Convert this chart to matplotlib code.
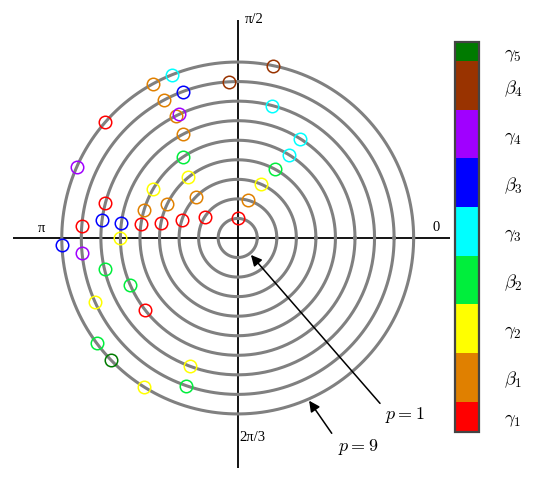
import numpy as np
import matplotlib
matplotlib.use("Agg")
import matplotlib.pyplot as plt
from matplotlib.colors import ListedColormap, BoundaryNorm
from matplotlib.cm import ScalarMappable

plt.rcParams['mathtext.fontset'] = 'cm'

# rings p = 1..9
rings = [1, 2, 3, 4, 5, 6, 7, 8, 9]

# colour classes, bottom to top of the colour bar
class_labels = [r'$\gamma_1$', r'$\beta_1$', r'$\gamma_2$', r'$\beta_2$', r'$\gamma_3$',
                r'$\beta_3$', r'$\gamma_4$', r'$\beta_4$', r'$\gamma_5$']
class_colors = ['#ff0000', '#e08000', '#ffff00', '#00ee3c', '#00ffff',
                '#0000ff', '#a000ff', '#993300', '#007a00']
# segment edges of the colour bar (first and last are short)
class_bounds = [0.37, 1, 2, 3, 4, 5, 6, 7, 8, 8.4]

# points: ring index and angle (degrees), grouped by class
gamma1_ring = [9, 7, 2, 1, 3, 4, 5, 8, 6]
gamma1_ang = [138.8, 165.2, 146.8, 90, 162, 169, 172, 175.5, 217.9]
beta1_ring = [9, 8, 7, 6, 3, 4, 5, 2]
beta1_ang = [118.6, 118, 116.6, 117.9, 135.5, 154.5, 163.5, 75]
gamma2_ring = [4, 5, 6, 8, 7, 9, 3]
gamma2_ang = [129, 150.2, 180, 204, 249.4, 237.9, 67]
beta2_ring = [5, 7, 6, 9, 8, 4]
beta2_ang = [123.8, 193.3, 203.7, 216.7, 250.8, 61.4]
gamma3_ring = [9, 7, 6, 5]
gamma3_ang = [111.9, 75.3, 57.7, 58]
beta3_ring = [8, 6, 7, 9]
beta3_ang = [110.6, 172.6, 172.5, 182.3]
gamma4_ring = [7, 9, 8]
gamma4_ang = [115.2, 156.1, 185.5]
beta4_ring = [8, 9]
beta4_ang = [93.2, 78.5]
gamma5_ring = [9]
gamma5_ang = [224]

point_rings = [gamma1_ring, beta1_ring, gamma2_ring, beta2_ring, gamma3_ring,
               beta3_ring, gamma4_ring, beta4_ring, gamma5_ring]
point_angles = [gamma1_ang, beta1_ang, gamma2_ang, beta2_ang, gamma3_ang,
                beta3_ang, gamma4_ang, beta4_ang, gamma5_ang]


def polar_xy(r, ang_deg):
    a = np.deg2rad(np.asarray(ang_deg, dtype=float))
    r = np.asarray(r, dtype=float)
    return r * np.cos(a), r * np.sin(a)


fig = plt.figure(figsize=(5.54, 4.86), dpi=100)
W, H = 554.0, 486.0

# main axes, origin placed where the axis lines cross
ax = fig.add_axes([12.7 / W, (H - 467.7) / H, (450 - 12.7) / W, (467.7 - 20) / H])
ax.set_xlim(-11.51, 10.86)
ax.set_ylim(-11.75, 11.15)
ax.axis('off')

ax.axhline(0, color='black', lw=1.3, zorder=1)
ax.axvline(0, color='black', lw=1.3, zorder=1)

t = np.linspace(0, 2 * np.pi, 400)
for p in rings:
    ax.plot(p * np.cos(t), p * np.sin(t), color='#808080', lw=2.2, zorder=2)

for rr, aa, col in zip(point_rings, point_angles, class_colors):
    x, y = polar_xy(rr, aa)
    ax.plot(x, y, 'o', ls='none', ms=9, mfc='none', mec=col, mew=1.1, zorder=3)

# angle labels
lab_font = dict(family='Liberation Serif', fontsize=10.5)
ax.text(0.37, 11.2, r'π/2', ha='left', va='center', clip_on=False, **lab_font)
ax.text(-10.03, 0.46, r'π', ha='center', va='center', **lab_font)
ax.text(10.17, 0.53, '0', ha='center', va='center', **lab_font)
ax.text(0.08, -10.18, '2π/3', ha='left', va='center', **lab_font)

# arrows to first and last ring
hx, hy = polar_xy(1.1, -52)
ax.annotate('', xy=(hx, hy), xytext=(7.28, -8.46),
            arrowprops=dict(arrowstyle='-|>', color='black', lw=1.1, mutation_scale=16,
                            shrinkA=0, shrinkB=0))
ax.text(8.56, -9.05, r'$p=1$', ha='center', va='center', fontsize=13)
hx, hy = polar_xy(9.09, -66.3)
ax.annotate('', xy=(hx, hy), xytext=(4.81, -9.99),
            arrowprops=dict(arrowstyle='-|>', color='black', lw=1.1, mutation_scale=16,
                            shrinkA=0, shrinkB=0))
ax.text(6.17, -10.68, r'$p=9$', ha='center', va='center', fontsize=13)

# colour bar
cax = fig.add_axes([455 / W, (H - 432.3) / H, (479.3 - 455) / W, (432.3 - 41.7) / H])
cmap = ListedColormap(class_colors)
norm = BoundaryNorm(class_bounds, cmap.N)
centers = [(class_bounds[i] + class_bounds[i + 1]) / 2 for i in range(len(class_colors))]
cb = fig.colorbar(ScalarMappable(norm=norm, cmap=cmap), cax=cax, ticks=centers,
                  spacing='proportional')
cb.ax.minorticks_off()
cb.ax.set_yticklabels(class_labels, fontsize=13.5)
cb.ax.tick_params(which='both', length=0, pad=18)
cb.outline.set_edgecolor('#444444')
cb.outline.set_linewidth(1.6)

fig.savefig('out.png', dpi=100)
